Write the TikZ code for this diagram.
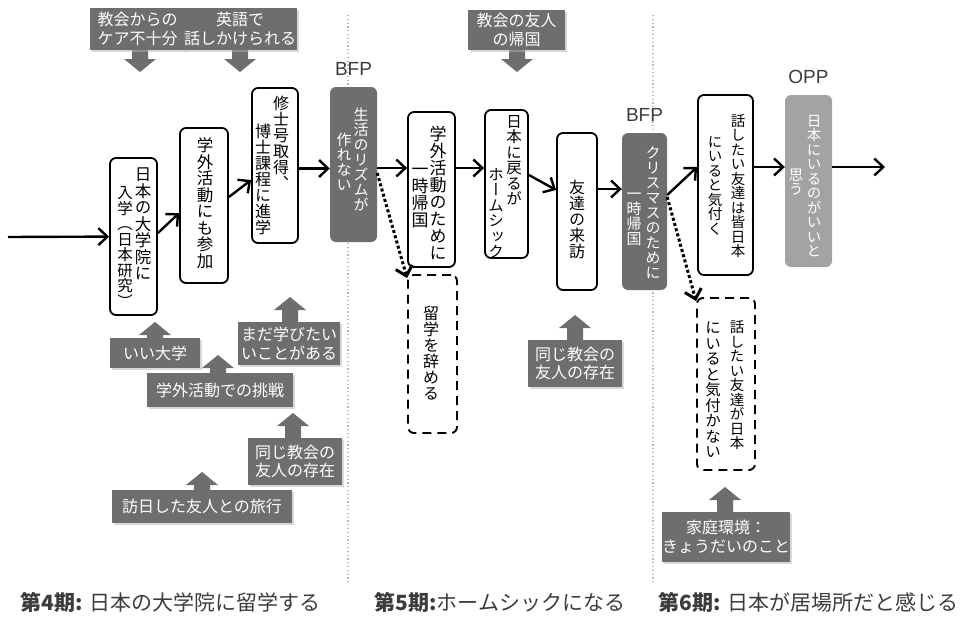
\documentclass[tikz,border=0pt]{standalone}
\usepackage{fontspec}
\setsansfont{Liberation Sans}
\newfontfamily\jp{Noto Sans CJK JP}
\newfontfamily\jpv[RawFeature=+vert]{Noto Sans CJK JP}
\usetikzlibrary{arrows.meta,shadows,calc}
\definecolor{boxgray}{HTML}{6E6E6E}
\definecolor{oppgray}{HTML}{A3A3A3}
\definecolor{sepgray}{HTML}{B8B8B8}
\definecolor{captgray}{HTML}{3C3C3C}
\makeatletter
\newcommand\vcol[1]{\vbox{\offinterlineskip\@tfor\vc@t:=#1\do{\hbox to 1em{\hss\vrule height .88em depth .12em width 0pt\relax\vc@t\hss}}}}
\makeatother
\newcommand\upblock[3]{\fill[boxgray] (#1-8,#2) -- (#1-8,#3+13) -- (#1-16,#3+13) -- (#1,#3) -- (#1+16,#3+13) -- (#1+8,#3+13) -- (#1+8,#2) -- cycle;}
\newcommand\downblock[3]{\fill[boxgray] (#1-8,#2) -- (#1-8,#3-13) -- (#1-16,#3-13) -- (#1,#3) -- (#1+16,#3-13) -- (#1+8,#3-13) -- (#1+8,#2) -- cycle;}
\tikzset{
  mainbox/.style={draw=black, line width=1.8pt, rounded corners=6pt, fill=white, inner sep=0pt},
  dashbox/.style={draw=black, line width=1.9pt, dash pattern=on 9pt off 6pt, rounded corners=6pt, fill=white, inner sep=0pt},
  bfpbox/.style={fill=boxgray, rounded corners=6pt, inner sep=0pt},
  oppbox/.style={fill=oppgray, rounded corners=6pt, inner sep=0pt},
  vc/.style={inner sep=0pt, font=\jpv\fontsize{#1}{#1}\selectfont},
  vcw/.style={vc=#1, text=white},
  factor/.style={fill=boxgray, text=white, font=\jp\fontsize{16}{18.5}\selectfont, align=center, inner sep=0pt,
    drop shadow={shadow xshift=1.5pt, shadow yshift=-1.5pt, fill=black!30, opacity=0.5}},
  flow/.style={draw=black, line width=2.4pt, -{Straight Barb[length=9pt,width=17pt]}},
  dotflow/.style={draw=black, line width=3pt, dash pattern=on 3pt off 2.4pt, -{Straight Barb[length=9pt,width=17pt]}},
  sepline/.style={draw=sepgray, line width=1.4pt, dash pattern=on 1.2pt off 2.6pt},
  tag/.style={font=\sffamily\fontsize{19}{21}\selectfont, text=captgray, inner sep=0pt},
  caption/.style={font=\jp\fontsize{21}{23}\selectfont, text=captgray, inner sep=0pt},
}
\begin{document}
\begin{tikzpicture}[x=1pt,y=-1pt]
\useasboundingbox (0,0) rectangle (961,616);
% separators
\coordinate (s1a) at (348,15); \coordinate (s1b) at (348,583);
\coordinate (s2a) at (653,15); \coordinate (s2b) at (653,583);
\draw[sepline] (s1a) -- (s1b);
\draw[sepline] (s2a) -- (s2b);
% block arrows
\downblock{140}{40}{72}
\downblock{240}{40}{72}
\downblock{517}{40}{72}
\upblock{155}{350}{322}
\upblock{290}{340}{297}
\upblock{218}{390}{355}
\upblock{293}{460}{413}
\upblock{202}{505}{472}
\upblock{575}{360}{315}
\upblock{725}{535}{487}
% factor boxes
\node[factor, minimum width=95pt, minimum height=42pt] (T1) at (137.5,29) {教会からの\\ケア不十分};
\node[factor, minimum width=114pt, minimum height=42pt] (T2) at (240,29) {英語で\\話しかけられる};
\node[factor, minimum width=97pt, minimum height=40pt] (T3) at (516.5,30) {教会の友人\\の帰国};
\node[factor, minimum width=90pt, minimum height=30pt] (B1) at (155,353) {いい大学};
\node[factor, minimum width=102pt, minimum height=43pt] (B2) at (289,343.5) {まだ学びたい\\いことがある};
\node[factor, minimum width=146pt, minimum height=34pt] (B3) at (220,390) {学外活動での挑戦};
\node[factor, minimum width=94pt, minimum height=47pt] (B4) at (295,461.5) {同じ教会の\\友人の存在};
\node[factor, minimum width=180pt, minimum height=33pt] (B5) at (202,506.5) {訪日した友人との旅行};
\node[factor, minimum width=94pt, minimum height=47pt] (B6) at (575,363.5) {同じ教会の\\友人の存在};
\node[factor, minimum width=122pt, minimum height=50pt] (B7) at (726,537) {家庭環境：\\きょうだいのこと};
% main boxes and their vertical text columns (right column first)
\node[mainbox, minimum width=47pt, minimum height=157pt] (A) at (133.5,236.5) {};
\node[vc=16.5] (A1) at (143,224) {\vcol{日本の大学院に}};
\node[vc=15.5] (A2) at (125,247) {\vcol{入学（日本研究）}};
\node[mainbox, minimum width=48pt, minimum height=155pt] (B) at (204,205.5) {};
\node[vc=16.5] (B1t) at (205,203) {\vcol{学外活動にも参加}};
\node[mainbox, minimum width=46pt, minimum height=155pt] (C) at (275,165.5) {};
\node[vc=16] (C1) at (281,143) {\vcol{修士号取得、}};
\node[vc=16] (C2) at (263,179) {\vcol{博士課程に進学}};
\node[bfpbox, minimum width=47pt, minimum height=155pt] (P1) at (353.5,164.5) {};
\node[vcw=15] (P1a) at (361,160) {\vcol{生活のリズムが}};
\node[vcw=15] (P1b) at (344,162) {\vcol{作れない}};
\node[mainbox, minimum width=47pt, minimum height=155pt] (D) at (431.5,189.5) {};
\node[vc=17] (D1) at (438,194) {\vcol{学外活動のために}};
\node[vc=17] (D2) at (420,195) {\vcol{一時帰国}};
\node[mainbox, minimum width=43pt, minimum height=148pt] (E) at (506.5,184) {};
\node[vc=15.5] (E1) at (514,160) {\vcol{日本に戻るが}};
\node[vc=15.5] (E2) at (496,213) {\vcol{ホームシック}};
\node[mainbox, minimum width=40pt, minimum height=157pt] (F) at (577,211.5) {};
\node[vc=16] (F1) at (577,219) {\vcol{友達の来訪}};
\node[bfpbox, minimum width=45pt, minimum height=157pt] (P2) at (644.5,211.5) {};
\node[vcw=15] (P2a) at (653,213) {\vcol{クリスマスのために}};
\node[vcw=15] (P2b) at (634,216) {\vcol{一時帰国}};
\node[dashbox, minimum width=49pt, minimum height=158pt] (G) at (432.5,354) {};
\node[vc=16] (G1) at (431,353) {\vcol{留学を辞める}};
\node[mainbox, minimum width=55pt, minimum height=180pt] (H) at (725.5,185) {};
\node[vc=14.5] (H1) at (738,186) {\vcol{話したい友達は皆日本}};
\node[vc=14.5] (H2) at (715,185) {\vcol{にいると気付く}};
\node[oppbox, minimum width=47pt, minimum height=172pt] (O) at (808.5,181) {};
\node[vcw=14.5] (O1) at (814,186) {\vcol{日本にいるのがいいと}};
\node[vcw=14.5] (O2) at (796,182) {\vcol{思う}};
\node[dashbox, minimum width=58pt, minimum height=172pt] (I) at (726,384) {};
\node[vc=14.5] (I1) at (737,385) {\vcol{話したい友達が日本}};
\node[vc=15.5] (I2) at (713,390) {\vcol{にいると気付かない}};
% tags
\node[tag] (L1) at ([yshift=18pt]P1.north) {BFP};
\node[tag] (L2) at ([yshift=18pt]P2.north) {BFP};
\node[tag] (L3) at ([yshift=18pt]O.north) {OPP};
% flow
\coordinate (start) at (8,237);
\coordinate (fin) at (885,167);
\draw[flow] (start) -- (A);
\draw[flow] ([yshift=3.5pt]A.east) -- ([yshift=-7.5pt]B.west);
\draw[flow] ([yshift=8.5pt]B.east) -- ([yshift=-14.5pt]C.west);
\draw[flow] ([yshift=-3pt]C.east) -- ([yshift=-3pt]C.east -| P1.west);
\draw[flow] ([yshift=-3.5pt]P1.east) -- ([yshift=-3.5pt]P1.east -| D.west);
\draw[flow] ([yshift=-3.5pt]P1.east -| D.east) -- ([yshift=-3.5pt]P1.east -| E.west);
\draw[flow] ([yshift=9pt]E.east) -- ([yshift=21.5pt]F.west);
\draw[flow] ([yshift=22.5pt]F.east) -- ([yshift=22.5pt]F.east -| P2.west);
\draw[flow] ([yshift=16.5pt]P2.east) -- ([yshift=18pt]H.west);
\draw[flow] ([yshift=18pt]H.east) -- ([yshift=18pt]H.east -| O.west);
\draw[flow] ([yshift=14pt]O.east) -- (fin);
\draw[dotflow] ([yshift=-8.5pt]P1.east) -- ([yshift=-4pt]G.north west);
\draw[dotflow] ([yshift=14.5pt]P2.east) -- ([yshift=-4pt]I.north west);
% captions
\node[caption] (K4) at (170.5,602) {{\bfseries 第4期:} 日本の大学院に留学する};
\node[caption] (K5) at (500,602) {{\bfseries 第5期:}ホームシックになる};
\node[caption] (K6) at (808.5,602) {{\bfseries 第6期:} 日本が居場所だと感じる};
\end{tikzpicture}
\end{document}
